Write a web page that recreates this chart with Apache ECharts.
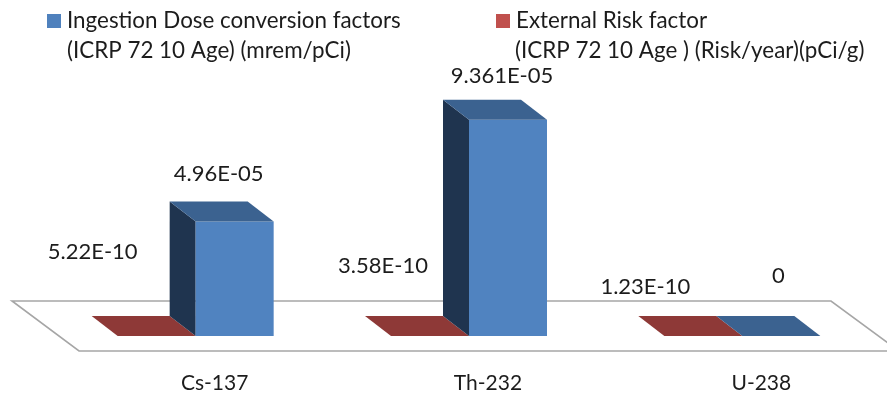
<!DOCTYPE html>
<html>
<head>
<meta charset="utf-8">
<style>html,body{margin:0;padding:0;background:#fff}#chart{width:887px;height:394px}</style>
<script src="https://cdn.jsdelivr.net/npm/echarts@6/dist/echarts.min.js"></script>
</head>
<body>
<div id="chart"></div>
<script>
const categories = ['Cs-137', 'Th-232', 'U-238']
const ingestionName = 'Ingestion Dose conversion factors'
const ingestionUnit = '(ICRP 72 10 Age) (mrem/pCi)'
const externalName = 'External Risk factor'
const externalUnit = '(ICRP 72 10 Age ) (Risk/year)(pCi/g)'
const ingestion = [4.96e-5, 9.361e-5, 0]
const external = [5.22e-10, 3.58e-10, 1.23e-10]
const ingestionLabels = ['4.96E-05', '9.361E-05', '0']
const externalLabels = ['5.22E-10', '3.58E-10', '1.23E-10']

// hand placed data labels in the original, offset from the front face
const ingestionNudge = [[-16, -48], [-6, -44], [-3, -60]]
const externalNudge = [[-64, -84], [-47, -70], [-58, -49]]

const FONT = 'Lato'
const FONT_SIZE = 22
const LEGEND_SIZE = 22.4
const TEXT = '#1c1c1c'
const BAR_W = 78
const DEPTH_X = -26
const DEPTH_Y = -20

function poly(points, fill) {
  return { type: 'polygon', shape: { points }, style: { fill, stroke: null } }
}

function bar3d(side, front, top, dark, labels, nudge) {
  return function (params, api) {
    const i = api.value(0)
    const tip = api.coord([i, api.value(1)])
    const base = api.coord([i, 0])
    const x0 = base[0] + (side < 0 ? -BAR_W : 0)
    const x1 = x0 + BAR_W
    const yt = tip[1]
    const yb = base[1]
    const children = [
      poly([[x0, yt], [x0, yb], [x0 + DEPTH_X, yb + DEPTH_Y], [x0 + DEPTH_X, yt + DEPTH_Y]], dark),
      poly([[x0, yt], [x1, yt], [x1, yb], [x0, yb]], front),
      poly([[x0, yt], [x1, yt], [x1 + DEPTH_X, yt + DEPTH_Y], [x0 + DEPTH_X, yt + DEPTH_Y]], top),
      {
        type: 'text',
        style: {
          text: labels[i],
          x: (x0 + x1) / 2 + nudge[i][0],
          y: yt + nudge[i][1],
          align: 'center',
          verticalAlign: 'middle',
          fill: TEXT,
          font: FONT_SIZE + 'px ' + FONT
        }
      }
    ]
    return { type: 'group', children }
  }
}

function renderFloor(params) {
  const g = params.coordSys
  const base = g.y + g.height
  const pts = [
    [g.x - 47, base - 35],
    [g.x + 772, base - 35],
    [g.x + 840, base + 15],
    [g.x + 20, base + 15]
  ]
  return {
    type: 'polygon',
    shape: { points: pts },
    style: { fill: '#fff', stroke: '#a6a6a6', lineWidth: 1.6 }
  }
}

const chart = echarts.init(document.getElementById('chart'), null, { renderer: 'canvas' })

const option = {
  animation: false,
  backgroundColor: '#fff',
  textStyle: { fontFamily: FONT },
  grid: { left: 59, width: 820, top: 105, height: 231 },
  legend: [
    {
      data: [ingestionName],
      left: 47, top: 10, padding: 0,
      itemWidth: 14, itemHeight: 14, itemGap: 0,
      icon: 'rect',
      textStyle: { fontSize: LEGEND_SIZE, color: TEXT, fontFamily: FONT, padding: [0, 0, 0, 1] }
    },
    {
      data: [externalName],
      left: 496, top: 10, padding: 0,
      itemWidth: 14, itemHeight: 14, itemGap: 0,
      icon: 'rect',
      textStyle: { fontSize: LEGEND_SIZE, color: TEXT, fontFamily: FONT, padding: [0, 0, 0, 1] }
    }
  ],
  graphic: [
    { type: 'text', left: 67, top: 40, style: { text: ingestionUnit, fill: TEXT, font: LEGEND_SIZE + 'px ' + FONT } },
    { type: 'text', left: 515, top: 40, style: { text: externalUnit, fill: TEXT, font: LEGEND_SIZE + 'px ' + FONT } }
  ],
  xAxis: {
    type: 'category',
    data: categories,
    axisLine: { show: false },
    axisTick: { show: false },
    // labels sit on the floor's front edge, the bars mid floor
    axisLabel: { margin: 37, fontSize: 21, color: TEXT, fontFamily: FONT, padding: [0, 0, 0, 38] }
  },
  yAxis: { type: 'value', min: 0, max: 1e-4, show: false },
  series: [
    {
      name: 'floor', type: 'custom', silent: true, clip: false, z: 1,
      data: [[0, 0]], renderItem: renderFloor
    },
    {
      name: externalName, type: 'custom', clip: false, z: 2,
      itemStyle: { color: '#c0504d' },
      data: external.map((v, i) => [i, v]),
      encode: { x: 0, y: 1 },
      renderItem: bar3d(-1, '#b5423f', '#8e3937', '#6b2b29', externalLabels, externalNudge)
    },
    {
      name: ingestionName, type: 'custom', clip: false, z: 3,
      itemStyle: { color: '#4f81bd' },
      data: ingestion.map((v, i) => [i, v]),
      encode: { x: 0, y: 1 },
      renderItem: bar3d(1, '#5083c0', '#3b6290', '#1f344f', ingestionLabels, ingestionNudge)
    }
  ]
}

chart.setOption(option)
</script>
</body>
</html>
